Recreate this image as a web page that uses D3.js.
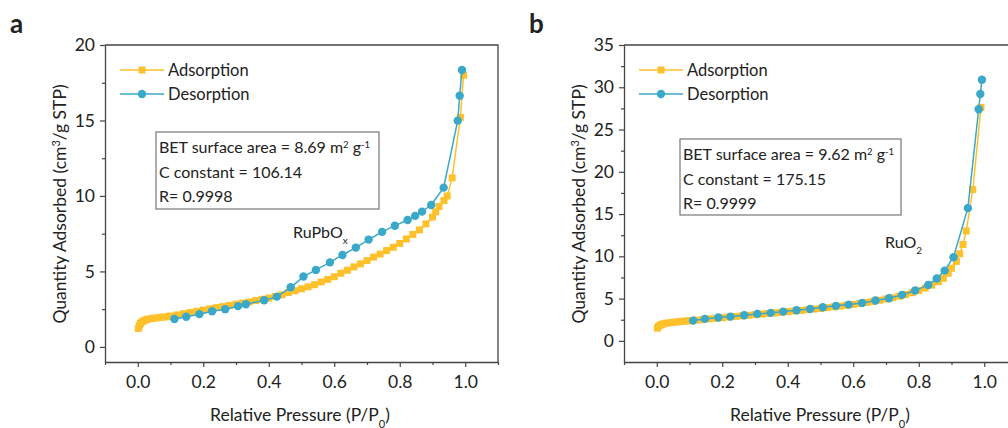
<!DOCTYPE html>
<html>
<head>
<meta charset="utf-8">
<script src="https://cdn.jsdelivr.net/npm/d3@7"></script>
<style>
  body { margin: 0; background: #fff; }
  svg text { font-family: Lato, "Open Sans", sans-serif; fill: #222; }
</style>
</head>
<body>
<div id="chart"></div>
<script>
"use strict";

// panel a : RuPbOx
const adsPressureA = [0.002, 0.005, 0.008, 0.012, 0.017, 0.023, 0.03, 0.04, 0.05, 0.06, 0.07, 0.08, 0.09, 0.10,
  0.12, 0.14, 0.16, 0.18, 0.20, 0.22, 0.24, 0.26, 0.28, 0.30, 0.32, 0.34, 0.36, 0.38, 0.40, 0.42, 0.44, 0.46,
  0.48, 0.50, 0.52, 0.54, 0.56, 0.58, 0.60, 0.62, 0.64, 0.66, 0.68, 0.70, 0.72, 0.74, 0.76, 0.78, 0.80, 0.82,
  0.84, 0.86, 0.88, 0.90, 0.91, 0.92, 0.935, 0.945, 0.96, 0.985, 0.995];
const adsVolumeA = [1.22, 1.4, 1.55, 1.65, 1.72, 1.78, 1.83, 1.87, 1.9, 1.93, 1.96, 1.98, 2.0, 2.05,
  2.12, 2.2, 2.28, 2.36, 2.44, 2.52, 2.6, 2.67, 2.75, 2.83, 2.9, 2.98, 3.07, 3.15, 3.24, 3.34, 3.45, 3.6,
  3.72, 3.85, 3.98, 4.12, 4.3, 4.47, 4.65, 4.88, 5.08, 5.3, 5.5, 5.72, 5.95, 6.15, 6.38, 6.6, 6.85, 7.15,
  7.45, 7.75, 8.15, 8.6, 8.95, 9.3, 9.7, 10.0, 11.2, 15.2, 18.0];
const desPressureA = [0.112, 0.148, 0.188, 0.227, 0.267, 0.306, 0.33, 0.386, 0.425, 0.467, 0.506, 0.544,
  0.587, 0.625, 0.666, 0.705, 0.746, 0.785, 0.824, 0.847, 0.868, 0.896, 0.934, 0.977, 0.983, 0.99];
const desVolumeA = [1.85, 2.0, 2.17, 2.36, 2.5, 2.7, 2.83, 3.09, 3.33, 3.95, 4.66, 5.1,
  5.6, 6.09, 6.58, 7.11, 7.62, 8.03, 8.41, 8.68, 8.96, 9.4, 10.55, 14.99, 16.64, 18.34];

// panel b : RuO2
const adsPressureB = [0.002, 0.005, 0.01, 0.015, 0.02, 0.03, 0.04, 0.05, 0.06, 0.07, 0.08, 0.09, 0.10,
  0.12, 0.14, 0.16, 0.18, 0.20, 0.22, 0.24, 0.26, 0.28, 0.30, 0.32, 0.34, 0.36, 0.38, 0.40, 0.42, 0.44,
  0.46, 0.48, 0.50, 0.52, 0.54, 0.56, 0.58, 0.60, 0.62, 0.64, 0.66, 0.68, 0.70, 0.72, 0.74, 0.76, 0.78,
  0.80, 0.82, 0.84, 0.86, 0.875, 0.89, 0.90, 0.915, 0.925, 0.935, 0.945, 0.965, 0.99];
const adsVolumeB = [1.5, 1.7, 1.85, 1.95, 2.02, 2.1, 2.15, 2.2, 2.24, 2.28, 2.32, 2.35, 2.38,
  2.45, 2.52, 2.6, 2.67, 2.74, 2.82, 2.89, 2.96, 3.03, 3.1, 3.17, 3.24, 3.31, 3.38, 3.46, 3.53, 3.6,
  3.68, 3.76, 3.84, 3.93, 4.02, 4.11, 4.21, 4.31, 4.42, 4.54, 4.66, 4.8, 4.95, 5.1, 5.28, 5.48, 5.7,
  5.95, 6.25, 6.6, 7.0, 7.4, 8.0, 8.6, 9.4, 10.3, 11.4, 13.0, 17.9, 27.6];
const desPressureB = [0.111, 0.147, 0.188, 0.225, 0.267, 0.307, 0.348, 0.386, 0.427, 0.468, 0.507, 0.547,
  0.586, 0.627, 0.668, 0.709, 0.749, 0.789, 0.829, 0.855, 0.879, 0.906, 0.95, 0.983, 0.988, 0.993];
const desVolumeB = [2.4, 2.6, 2.76, 2.87, 3.03, 3.19, 3.31, 3.46, 3.63, 3.78, 3.98, 4.14,
  4.29, 4.49, 4.77, 5.05, 5.44, 5.95, 6.62, 7.37, 8.31, 9.9, 15.7, 27.4, 29.2, 30.9];

// ticks and labels
const xTicks = [0.0, 0.2, 0.4, 0.6, 0.8, 1.0];
const yTicksA = [0, 5, 10, 15, 20];
const yTicksB = [0, 5, 10, 15, 20, 25, 30, 35];
const seriesNames = ["Adsorption", "Desorption"];
const betLinesA = ["BET surface area = 8.69 m", "C constant = 106.14", "R= 0.9998"];
const betLinesB = ["BET surface area = 9.62 m", "C constant = 175.15", "R= 0.9999"];

const adsColor = "#ffc12b";
const desColor = "#3aa8c8";

function init() {
    const svg = d3.select("#chart")
                  .append("svg")
                  .attr("width", 1008)
                  .attr("height", 428);

    drawPanel(svg, {
        label: "a", left: 105, right: 498,
        yDomain: [-1, 20], yTicks: yTicksA,
        ads: d3.zip(adsPressureA, adsVolumeA),
        des: d3.zip(desPressureA, desVolumeA),
        bet: betLinesA, box: [156, 132, 223, 77],
        sample: ["RuPbO", "x"], samplePos: [293, 238],
        yTitleX: 66, xTitleX: 300
    });
    drawPanel(svg, {
        label: "b", left: 624, right: 1017,
        yDomain: [-2.5, 35], yTicks: yTicksB,
        ads: d3.zip(adsPressureB, adsVolumeB),
        des: d3.zip(desPressureB, desVolumeB),
        bet: betLinesB, box: [680, 139, 221, 76],
        sample: ["RuO", "2"], samplePos: [885, 248],
        yTitleX: 585, xTitleX: 820
    });
}
window.onload = init;

function drawPanel(svg, p) {
    const top = 45, bottom = 362;

    const x = d3.scaleLinear().domain([-0.1, 1.1]).range([p.left, p.right]);
    const y = d3.scaleLinear().domain(p.yDomain).range([bottom, top]);

    const g = svg.append("g");

    // frame: top and right lines
    g.append("path")
     .attr("d", `M${p.left},${top}H${p.right}V${bottom}`)
     .attr("fill", "none")
     .attr("stroke", "#444")
     .attr("stroke-width", 1.3);

    // minor ticks
    const yStep = p.yTicks[1] - p.yTicks[0];
    const yMinor = d3.range(p.yTicks[0] + yStep / 2, p.yDomain[1], yStep);
    const xMinor = [-0.1, 0.1, 0.3, 0.5, 0.7, 0.9, 1.1];

    g.append("g")
        .attr("transform", `translate(0,${bottom})`)
        .call(d3.axisBottom(x).tickValues(xTicks).tickFormat(d3.format(".1f"))
                .tickSize(5).tickSizeOuter(0).tickPadding(9));
    g.append("g")
        .attr("transform", `translate(0,${bottom})`)
        .call(d3.axisBottom(x).tickValues(xMinor).tickSize(3).tickSizeOuter(0).tickFormat(""))
        .select(".domain").remove();

    g.append("g")
        .attr("transform", `translate(${p.left},0)`)
        .call(d3.axisLeft(y).tickValues(p.yTicks).tickSize(5).tickSizeOuter(0).tickPadding(5));
    g.append("g")
        .attr("transform", `translate(${p.left},0)`)
        .call(d3.axisLeft(y).tickValues(yMinor).tickSize(3).tickSizeOuter(0).tickFormat(""))
        .select(".domain").remove();

    g.selectAll(".domain").attr("stroke", "#444").attr("stroke-width", 1.3);
    g.selectAll(".tick line").attr("stroke", "#444").attr("stroke-width", 1.2);
    g.selectAll(".tick text").style("font-size", "17.5px").attr("fill", "#222");

    // axis titles
    const yt = g.append("text")
     .attr("transform", `translate(${p.yTitleX},204) rotate(-90)`)
     .attr("text-anchor", "middle")
     .style("font-size", "17.5px")
     .text("Quantity Adsorbed (cm");
    yt.append("tspan").attr("baseline-shift", "super").style("font-size", "11px").text("3");
    yt.append("tspan").text("/g STP)");

    const xt = g.append("text")
     .attr("x", p.xTitleX).attr("y", 421)
     .attr("text-anchor", "middle")
     .style("font-size", "17.5px")
     .text("Relative Pressure (P/P");
    xt.append("tspan").attr("baseline-shift", "sub").style("font-size", "11px").text("0");
    xt.append("tspan").text(")");

    // panel letter
    g.append("text")
     .attr("x", p.label === "a" ? 10 : 529).attr("y", 33)
     .style("font-size", "26px").style("font-weight", "bold")
     .attr("fill", "#111")
     .text(p.label);

    const clip = "clip-" + p.label;
    svg.append("clipPath").attr("id", clip)
       .append("rect").attr("x", p.left).attr("y", top - 5)
       .attr("width", 1008 - p.left).attr("height", bottom - top + 5);

    const plot = g.append("g").attr("clip-path", `url(#${clip})`);
    const line = d3.line().x(d => x(d[0])).y(d => y(d[1]));

    // adsorption
    plot.append("path").datum(p.ads)
        .attr("d", line).attr("fill", "none")
        .attr("stroke", adsColor).attr("stroke-width", 1.5);
    plot.selectAll(".ads").data(p.ads).join("rect")
        .attr("x", d => x(d[0]) - 3.5).attr("y", d => y(d[1]) - 3.5)
        .attr("width", 7).attr("height", 7)
        .attr("fill", adsColor);

    // desorption
    plot.append("path").datum(p.des)
        .attr("d", line).attr("fill", "none")
        .attr("stroke", desColor).attr("stroke-width", 1.5);
    plot.selectAll(".des").data(p.des).join("circle")
        .attr("cx", d => x(d[0])).attr("cy", d => y(d[1]))
        .attr("r", 4.2)
        .attr("fill", desColor);

    // legend
    const lx = p.left + 15;
    [adsColor, desColor].forEach((c, i) => {
        const ly = 70 + i * 24;
        g.append("line").attr("x1", lx).attr("x2", lx + 44)
         .attr("y1", ly).attr("y2", ly)
         .attr("stroke", c).attr("stroke-width", 1.5);
        if (i === 0) {
            g.append("rect").attr("x", lx + 18.5).attr("y", ly - 3.5)
             .attr("width", 7).attr("height", 7).attr("fill", c);
        } else {
            g.append("circle").attr("cx", lx + 22).attr("cy", ly).attr("r", 4.2).attr("fill", c);
        }
        g.append("text").attr("x", lx + 48).attr("y", ly + 6)
         .style("font-size", "16.5px").text(seriesNames[i]);
    });

    // BET box
    const [bx, by, bw, bh] = p.box;
    g.append("rect").attr("x", bx).attr("y", by).attr("width", bw).attr("height", bh)
     .attr("fill", "#fff").attr("stroke", "#777").attr("stroke-width", 1.2);
    p.bet.forEach((t, i) => {
        const tx = g.append("text").attr("x", bx + 3).attr("y", by + 21 + i * 24.5)
          .style("font-size", "16px").text(t);
        if (i === 0) {
            tx.append("tspan").attr("baseline-shift", "super").style("font-size", "9.5px").text("2");
            tx.append("tspan").text(" g");
            tx.append("tspan").attr("baseline-shift", "super").style("font-size", "9.5px").text("-1");
        }
    });

    // sample label
    const st = g.append("text").attr("x", p.samplePos[0]).attr("y", p.samplePos[1])
      .style("font-size", "16px").text(p.sample[0]);
    st.append("tspan").attr("baseline-shift", "sub").style("font-size", "10px").text(p.sample[1]);
}
</script>
</body>
</html>
